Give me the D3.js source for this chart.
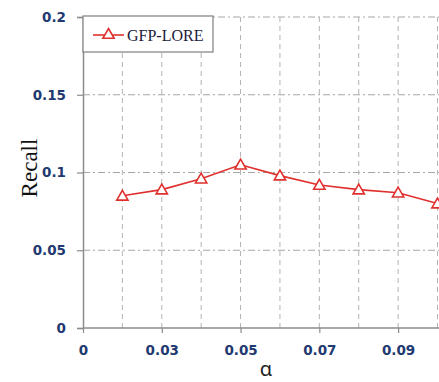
<!DOCTYPE html>
<html><head><meta charset="utf-8">
<script src="https://cdn.jsdelivr.net/npm/d3@7"></script>
<style>body{margin:0;background:#fff;} svg{display:block;}</style>
</head><body>
<svg id="c" width="439" height="382"></svg>
<script>
const alphas = [0.02,0.03,0.04,0.05,0.06,0.07,0.08,0.09,0.10];
const recall = [0.085,0.089,0.096,0.105,0.098,0.092,0.089,0.087,0.080];
const xTickValues = [0.01,0.03,0.05,0.07,0.09];
const xTickLabels = ["0","0.03","0.05","0.07","0.09"];
const yTickValues = [0,0.05,0.1,0.15,0.2];
const yTickLabels = ["0","0.05","0.1","0.15","0.2"];
const seriesName = "GFP-LORE";

const svg = d3.select("#c");
const L=83, T=17, B=328, R=437.5;
const x = d3.scaleLinear().domain([0.01,0.10]).range([L,R]);
const y = d3.scaleLinear().domain([0,0.2]).range([B,T]);
const tickColor = "#1f3a70";
const red = "#e0302e";

// horizontal grid (dash-dot)
svg.append("g").selectAll("line").data(yTickValues.slice(1)).join("line")
  .attr("x1",L).attr("x2",439).attr("y1",d=>y(d)).attr("y2",d=>y(d))
  .attr("stroke","#a6a6a6").attr("stroke-width",1).attr("stroke-dasharray","7,3,2,3");
// vertical grid (dashed)
svg.append("g").selectAll("line").data(alphas).join("line")
  .attr("x1",d=>x(d)).attr("x2",d=>x(d)).attr("y1",T).attr("y2",B)
  .attr("stroke","#b3b3b3").attr("stroke-width",1).attr("stroke-dasharray","5,4");

// y axis
const yAxis = d3.axisLeft(y).tickValues(yTickValues).tickSize(6).tickPadding(11)
  .tickFormat((d,i)=>yTickLabels[i]);
const gy = svg.append("g").attr("transform",`translate(${L},0)`).call(yAxis);
gy.select(".domain").attr("stroke","#8c8c8c").attr("stroke-width",1.5);
gy.selectAll(".tick line").attr("stroke","#8c8c8c").attr("stroke-width",1.2);
gy.selectAll(".tick text").attr("fill",tickColor).attr("font-family","DejaVu Sans")
  .attr("font-weight","bold").attr("font-size","13.5px");

// x axis
const xAxis = d3.axisBottom(x).tickValues(xTickValues).tickSize(5).tickPadding(12)
  .tickFormat((d,i)=>xTickLabels[i]).tickSizeOuter(0);
const gx = svg.append("g").attr("transform",`translate(0,${B})`).call(xAxis);
gx.select(".domain").attr("stroke","#8c8c8c").attr("stroke-width",1.5).attr("d",`M${L},0H439`);
gx.selectAll(".tick line").attr("stroke","#8c8c8c").attr("stroke-width",1.2);
gx.selectAll(".tick text").attr("fill",tickColor).attr("font-family","DejaVu Sans")
  .attr("font-weight","bold").attr("font-size","13.5px");

// line
const line = d3.line().x((d,i)=>x(alphas[i])).y(d=>y(d));
svg.append("path").datum(recall).attr("d",line).attr("fill","none")
  .attr("stroke",red).attr("stroke-width",1.6);
const tri = d3.symbol().type(d3.symbolTriangle).size(55);
svg.append("g").selectAll("path").data(recall).join("path")
  .attr("d",tri).attr("transform",(d,i)=>`translate(${x(alphas[i])},${y(d)+1})`)
  .attr("fill","#fff").attr("stroke",red).attr("stroke-width",1.6);

// legend
const lg = svg.append("g");
lg.append("rect").attr("x",L).attr("y",T-1).attr("width",130).attr("height",36)
  .attr("fill","#fff").attr("stroke","#7f7f7f").attr("stroke-width",1.2);
lg.append("line").attr("x1",93).attr("x2",124).attr("y1",35).attr("y2",35)
  .attr("stroke",red).attr("stroke-width",1.6);
lg.append("path").attr("d",tri).attr("transform","translate(108.5,35)")
  .attr("fill","#fff").attr("stroke",red).attr("stroke-width",1.6);
lg.append("text").attr("x",127).attr("y",40.5).text(seriesName)
  .attr("font-family","Liberation Serif").attr("font-size","16px").attr("fill","#1b1b3a");

// axis titles
svg.append("text").attr("transform","translate(37,168) rotate(-90)").attr("text-anchor","middle")
  .attr("font-family","Liberation Serif").attr("font-size","23px").attr("fill","#111").text("Recall");
svg.append("text").attr("x",266).attr("y",376).attr("text-anchor","middle")
  .attr("font-family","Noto Sans").attr("font-size","20px").attr("fill","#222").text("α");
</script>
</body></html>
